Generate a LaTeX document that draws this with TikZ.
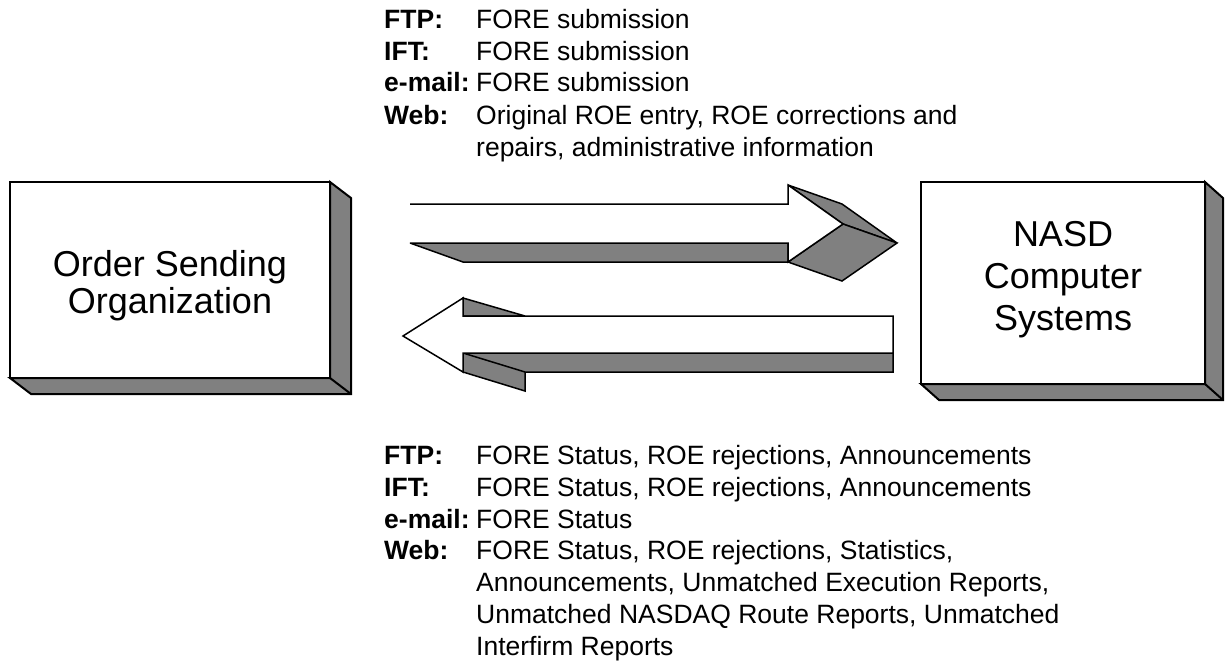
\documentclass[tikz,border=0pt]{standalone}
\usepackage{fontspec}
\setmainfont{Liberation Sans}
\definecolor{shade}{RGB}{128,128,128}
\tikzset{
  box/.style={draw=black, fill=white, line width=2pt, inner sep=0pt, outer sep=0pt},
  boxside/.style={draw=black, fill=shade, line width=2pt, line join=miter},
  arrface/.style={draw=black, fill=white, line width=1.5pt, line join=miter, miter limit=5},
  arrside/.style={draw=black, fill=shade, line width=1.5pt, line join=miter, miter limit=5},
  arredge/.style={draw=black, line width=1.5pt},
  bigtxt/.style={anchor=base, inner sep=0pt, font=\fontsize{36}{42}\selectfont},
  lab/.style={anchor=base west, inner sep=0pt, font=\fontsize{26.5}{32}\selectfont\bfseries},
  val/.style={anchor=base west, inner sep=0pt, font=\fontsize{26.5}{32}\selectfont},
}
\begin{document}
\begin{tikzpicture}[x=1pt,y=-1pt]
\useasboundingbox (0,0) rectangle (1228,661);

% ---- left box: Order Sending Organization
\node[box, minimum width=320pt, minimum height=196pt] (osa) at (170,280) {};
\draw[boxside] (osa.north east) -- ++(21,16) -- ++(0,196) -- ++(-320,0)
  -- (osa.south west) -- (osa.south east) -- cycle;
\draw[line width=2pt] (osa.south east) -- ++(21,16);
\node[bigtxt] (osa1) at (170,276) {Order Sending};
\node[bigtxt] (osa2) at (170,313) {Organization};

% ---- right box: NASD Computer Systems
\node[box, minimum width=284pt, minimum height=202pt] (nasd) at (1063,283) {};
\draw[boxside] (nasd.north east) -- ++(18,16) -- ++(0,202) -- ++(-284,0)
  -- (nasd.south west) -- (nasd.south east) -- cycle;
\draw[line width=2pt] (nasd.south east) -- ++(18,16);
\node[bigtxt] (nasd1) at (1063,246) {NASD};
\node[bigtxt] (nasd2) at (1063,288) {Computer};
\node[bigtxt] (nasd3) at (1063,330) {Systems};

% ---- upper arrow (to the right)
\draw[arrside] (410,243) -- (788,243) -- (788,262) -- (463,262) -- cycle;
\draw[arrside] (788,185) -- (842,204) -- (897,243) -- (843,224) -- cycle;
\draw[arrside] (788,262) -- (843,224) -- (897,243) -- (842,281) -- cycle;
\fill[white] (410,204) -- (788,204) -- (788,185) -- (843,224) -- (788,262)
  -- (788,243) -- (410,243) -- cycle;
\draw[arredge, line join=miter] (410,204) -- (788,204) -- (788,185) -- (843,224)
  -- (788,262) -- (788,243) -- (410,243);

% ---- lower arrow (to the left)
\draw[arrside] (463,298) -- (525,316) -- (463,316) -- cycle;
\draw[arrside] (463,353) -- (893,353) -- (893,372) -- (525,372) -- (525,391)
  -- (463,372) -- cycle;
\draw[arredge] (463,353) -- (525,372);
\draw[arrface] (403,336) -- (463,298) -- (463,316) -- (893,316) -- (893,353)
  -- (463,353) -- (463,372) -- cycle;

% ---- upper text
\node[lab] (tl1) at (384,28.5) {FTP:};
\node[val] (tv1) at (476,28.5) {FORE submission};
\node[lab] (tl2) at (384,60) {IFT:};
\node[val] (tv2) at (476,60) {FORE submission};
\node[lab] (tl3) at (384,92) {e-mail:};
\node[val] (tv3) at (476,92) {FORE submission};
\node[lab] (tl4) at (384,124) {Web:};
\node[val] (tv4) at (476,124) {Original ROE entry, ROE corrections and};
\node[val] (tv5) at (476,156) {repairs, administrative information};

% ---- lower text
\node[lab] (bl1) at (384,464) {FTP:};
\node[val] (bv1) at (476,464) {FORE Status, ROE rejections, Announcements};
\node[lab] (bl2) at (384,496) {IFT:};
\node[val] (bv2) at (476,496) {FORE Status, ROE rejections, Announcements};
\node[lab] (bl3) at (384,528) {e-mail:};
\node[val] (bv3) at (476,528) {FORE Status};
\node[lab] (bl4) at (384,559) {Web:};
\node[val] (bv4) at (476,559) {FORE Status, ROE rejections, Statistics,};
\node[val] (bv5) at (476,591) {Announcements, Unmatched Execution Reports,};
\node[val] (bv6) at (476,623) {Unmatched NASDAQ Route Reports, Unmatched};
\node[val] (bv7) at (476,655) {Interfirm Reports};
\end{tikzpicture}
\end{document}
